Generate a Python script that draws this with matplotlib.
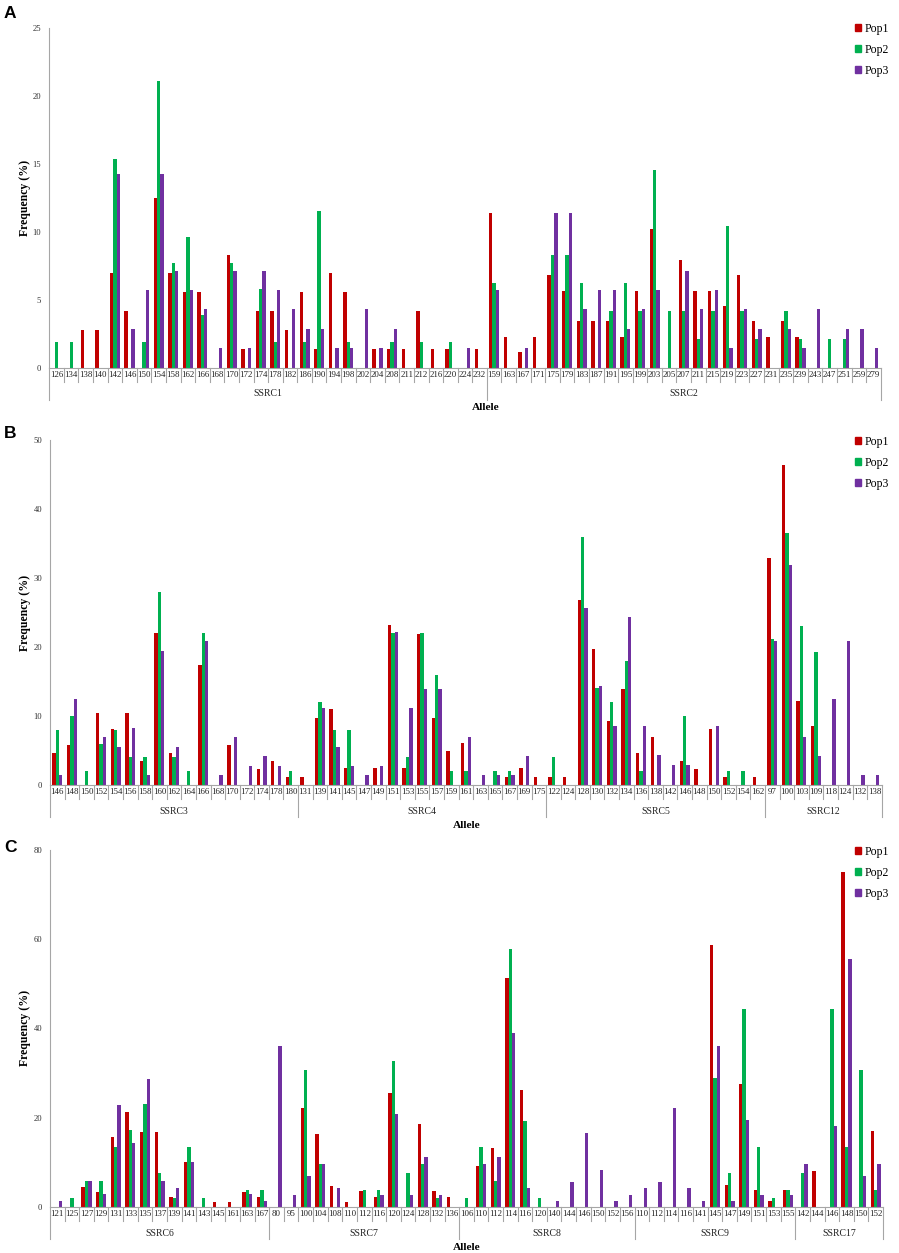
import numpy as np
import matplotlib
matplotlib.use("Agg")
import matplotlib.pyplot as plt
from matplotlib.patches import Patch

# Colours like the Excel defaults in the original
C_POP1 = "#C00000"
C_POP2 = "#00B050"
C_POP3 = "#7030A0"
GREY = "#A6A6A6"

# ---------------- Panel A ----------------
a_loci = ["SSRC1", "SSRC2"]
a_alleles = [
    ["126", "134", "138", "140", "142", "146", "150", "154", "158", "162", "166", "168", "170", "172", "174",
     "178", "182", "186", "190", "194", "198", "202", "204", "208", "211", "212", "216", "220", "224", "232"],
    ["159", "163", "167", "171", "175", "179", "183", "187", "191", "195", "199", "203", "205", "207", "211",
     "215", "219", "223", "227", "231", "235", "239", "243", "247", "251", "259", "279"],
]
a_pop1 = [0, 0, 2.78, 2.78, 6.94, 4.17, 0, 12.5, 6.94, 5.56, 5.56, 0, 8.33, 1.39, 4.17,
          4.17, 2.78, 5.56, 1.39, 6.94, 5.56, 0, 1.39, 1.39, 1.39, 4.17, 1.39, 1.39, 0, 1.39,
          11.36, 2.27, 1.14, 2.27, 6.82, 5.68, 3.41, 3.41, 3.41, 2.27, 5.68, 10.23, 0, 7.95, 5.68,
          5.68, 4.55, 6.82, 3.41, 2.27, 3.41, 2.27, 0, 0, 0, 0, 0]
a_pop2 = [1.92, 1.92, 0, 0, 15.38, 0, 1.92, 21.15, 7.69, 9.62, 3.85, 0, 7.69, 0, 5.77,
          1.92, 0, 1.92, 11.54, 0, 1.92, 0, 0, 1.92, 0, 1.92, 0, 1.92, 0, 0,
          6.25, 0, 0, 0, 8.33, 8.33, 6.25, 0, 4.17, 6.25, 4.17, 14.58, 4.17, 4.17, 2.08,
          4.17, 10.42, 4.17, 2.08, 0, 4.17, 2.08, 0, 2.08, 2.08, 0, 0]
a_pop3 = [0, 0, 0, 0, 14.29, 2.86, 5.71, 14.29, 7.14, 5.71, 4.29, 1.43, 7.14, 1.43, 7.14,
          5.71, 4.29, 2.86, 2.86, 1.43, 1.43, 4.29, 1.43, 2.86, 0, 0, 0, 0, 1.43, 0,
          5.71, 0, 1.43, 0, 11.43, 11.43, 4.29, 5.71, 5.71, 2.86, 4.29, 5.71, 0, 7.14, 4.29,
          5.71, 1.43, 4.29, 2.86, 0, 2.86, 1.43, 4.29, 0, 2.86, 2.86, 1.43]

# ---------------- Panel B ----------------
b_loci = ["SSRC3", "SSRC4", "SSRC5", "SSRC12"]
b_alleles = [
    ["146", "148", "150", "152", "154", "156", "158", "160", "162", "164", "166", "168", "170", "172", "174",
     "178", "180"],
    ["131", "139", "141", "145", "147", "149", "151", "153", "155", "157", "159", "161", "163", "165", "167",
     "169", "175"],
    ["122", "124", "128", "130", "132", "134", "136", "138", "142", "146", "148", "150", "152", "154", "162"],
    ["97", "100", "103", "109", "118", "124", "132", "138"],
]
b_pop1 = [4.65, 5.81, 0, 10.47, 8.14, 10.47, 3.49, 22.09, 4.65, 0, 17.44, 0, 5.81, 0, 2.33, 3.49, 1.16,
          1.22, 9.76, 10.98, 2.44, 0, 2.44, 23.17, 2.44, 21.95, 9.76, 4.88, 6.1, 0, 0, 1.22, 2.44, 1.22,
          1.16, 1.16, 26.74, 19.77, 9.3, 13.95, 4.65, 6.98, 0, 3.49, 2.33, 8.14, 1.16, 0, 1.16,
          32.93, 46.34, 12.2, 8.54, 0, 0, 0, 0]
b_pop2 = [8, 10, 2, 6, 8, 4, 4, 28, 4, 2, 22, 0, 0, 0, 0, 0, 2,
          0, 12, 8, 8, 0, 0, 22, 4, 22, 16, 2, 2, 0, 2, 2, 0, 0,
          4, 0, 36, 14, 12, 18, 2, 0, 0, 10, 0, 0, 2, 2, 0,
          21.15, 36.54, 23.08, 19.23, 0, 0, 0, 0]
b_pop3 = [1.39, 12.5, 0, 6.94, 5.56, 8.33, 1.39, 19.44, 5.56, 0, 20.83, 1.39, 6.94, 2.78, 4.17, 2.78, 0,
          0, 11.11, 5.56, 2.78, 1.39, 2.78, 22.22, 11.11, 13.89, 13.89, 0, 6.94, 1.39, 1.39, 1.39, 4.17, 0,
          0, 0, 25.71, 14.29, 8.57, 24.29, 8.57, 4.29, 2.86, 2.86, 0, 8.57, 0, 0, 0,
          20.83, 31.94, 6.94, 4.17, 12.5, 20.83, 1.39, 1.39]

# ---------------- Panel C ----------------
c_loci = ["SSRC6", "SSRC7", "SSRC8", "SSRC9", "SSRC17"]
c_alleles = [
    ["121", "125", "127", "129", "131", "133", "135", "137", "139", "141", "143", "145", "161", "163", "167"],
    ["80", "95", "100", "104", "108", "110", "112", "116", "120", "124", "128", "132", "136"],
    ["106", "110", "112", "114", "116", "120", "140", "144", "146", "150", "152", "156"],
    ["110", "112", "114", "116", "141", "145", "147", "149", "151", "153", "155"],
    ["142", "144", "146", "148", "150", "152"],
]
c_pop1 = [0, 0, 4.49, 3.37, 15.73, 21.35, 16.85, 16.85, 2.25, 10.11, 0, 1.12, 1.12, 3.37, 2.25,
          0, 0, 22.09, 16.28, 4.65, 1.16, 3.49, 2.33, 25.58, 0, 18.6, 3.49, 2.33,
          0, 9.2, 13.1, 51.3, 26.3, 0, 0, 0, 0, 0, 0, 0,
          0, 0, 0, 0, 0, 58.75, 5.0, 27.5, 3.75, 1.25, 3.75,
          0, 7.95, 0, 75.0, 0, 17.05]
c_pop2 = [0, 1.92, 5.77, 5.77, 13.46, 17.31, 23.08, 7.69, 1.92, 13.46, 1.92, 0, 0, 3.85, 3.85,
          0, 0, 30.77, 9.62, 0, 0, 3.85, 3.85, 32.69, 7.69, 9.62, 1.92, 0,
          1.92, 13.46, 5.77, 57.69, 19.23, 1.92, 0, 0, 0, 0, 0, 0,
          0, 0, 0, 0, 0, 28.85, 7.69, 44.23, 13.46, 1.92, 3.85,
          7.69, 0, 44.23, 13.46, 30.77, 3.85]
c_pop3 = [1.43, 0, 5.71, 2.86, 22.86, 14.29, 28.57, 5.71, 4.29, 10.0, 0, 0, 0, 2.86, 1.43,
          36.11, 2.78, 6.94, 9.72, 4.17, 0, 0, 2.78, 20.83, 2.78, 11.11, 2.78, 0,
          0, 9.72, 11.11, 38.89, 4.17, 0, 1.39, 5.56, 16.67, 8.33, 1.39, 2.78,
          4.17, 5.56, 22.22, 4.17, 1.39, 36.11, 1.39, 19.44, 2.78, 0, 2.78,
          9.72, 0, 18.06, 55.56, 6.94, 9.72]

W_PX, H_PX = 899, 1253
SERIF = "Liberation Serif"
plt.rcParams["font.family"] = [SERIF, "DejaVu Serif"]

fig = plt.figure(figsize=(W_PX / 100, H_PX / 100), dpi=100)


def px2pt(px):
    return px * 0.72


def draw_panel(rect_px, loci, alleles, p1, p2, p3, ymax, ystep, letter, letter_y, legend_y, allele_x):
    left, top, right, bottom = rect_px
    ax = fig.add_axes([left / W_PX, 1 - bottom / H_PX, (right - left) / W_PX, (bottom - top) / H_PX])
    labels = [a for grp in alleles for a in grp]
    n = len(labels)
    x = np.arange(n)
    w = 0.23
    ax.bar(x - w, p1, w, color=C_POP1, label="Pop1")
    ax.bar(x, p2, w, color=C_POP2, label="Pop2")
    ax.bar(x + w, p3, w, color=C_POP3, label="Pop3")

    ax.set_xlim(-0.5, n - 0.5)
    ax.set_ylim(0, ymax)
    ax.set_yticks(np.arange(0, ymax + 1, ystep))
    ax.tick_params(axis="y", length=0, pad=px2pt(8), labelsize=6.2, labelcolor="#333333")
    ax.set_xticks(x)
    ax.set_xticklabels(labels)
    ax.tick_params(axis="x", length=0, pad=px2pt(3), labelsize=6.4, labelcolor="#222222")
    for s in ["top", "right"]:
        ax.spines[s].set_visible(False)
    for s in ["left", "bottom"]:
        ax.spines[s].set_color(GREY)
        ax.spines[s].set_linewidth(0.8)

    # category separators
    hpx = bottom - top
    short = 14 / hpx
    long_ = 32 / hpx
    trans = ax.get_xaxis_transform()
    bounds = np.cumsum([0] + [len(g) for g in alleles]) - 0.5
    for i in range(n + 1):
        xb = i - 0.5
        ln = long_ if np.any(np.isclose(bounds, xb)) else short
        ax.plot([xb, xb], [0, -ln], color=GREY, lw=0.8, transform=trans, clip_on=False)
    # locus names
    for k, name in enumerate(loci):
        cx = (bounds[k] + bounds[k + 1]) / 2
        ax.annotate(name, xy=(cx, 0), xycoords=trans, xytext=(0, -px2pt(26)),
                    textcoords="offset points", ha="center", va="center", fontsize=7, color="#222222")

    fig.text(allele_x / W_PX, 1 - (bottom + 40) / H_PX, "Allele", ha="center", va="center",
             fontsize=8.2, fontweight="bold")
    fig.text(25 / W_PX, 1 - ((top + bottom) / 2) / H_PX, "Frequency (%)", rotation=90,
             ha="center", va="center", fontsize=8.5, fontweight="bold")
    fig.text(4 / W_PX, 1 - letter_y / H_PX, letter, ha="left", va="center",
             fontsize=12.5, fontweight="bold", family="Liberation Sans")

    handles = [Patch(color=C_POP1), Patch(color=C_POP2), Patch(color=C_POP3)]
    ax.legend(handles, ["Pop1", "Pop2", "Pop3"], loc="upper left",
              bbox_to_anchor=(855 / W_PX, 1 - (legend_y - 7) / H_PX), bbox_transform=fig.transFigure,
              frameon=False, fontsize=8.5, handlelength=0.55, handleheight=0.55,
              handletextpad=0.25, labelspacing=0.75, borderpad=0, borderaxespad=0)
    return ax


draw_panel((49.3, 28.3, 880.7, 367.7), a_loci, a_alleles, a_pop1, a_pop2, a_pop3,
           25, 5, "A", 14, 30, 486)
draw_panel((50, 440, 881.7, 785), b_loci, b_alleles, b_pop1, b_pop2, b_pop3,
           50, 10, "B", 433, 443, 467)
draw_panel((50, 849.7, 883, 1207), c_loci, c_alleles, c_pop1, c_pop2, c_pop3,
           80, 20, "C", 847, 853, 467)

fig.savefig("out.png", dpi=100)
